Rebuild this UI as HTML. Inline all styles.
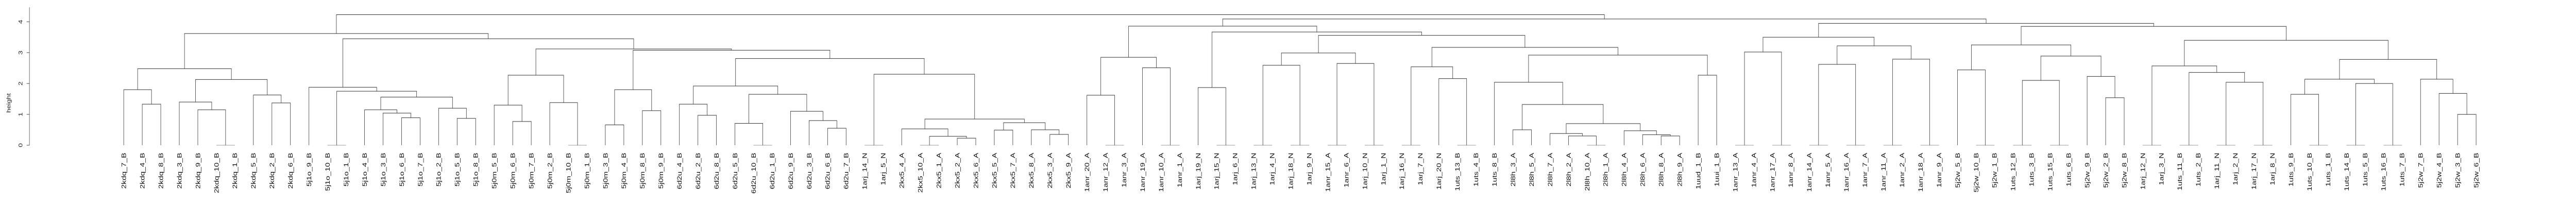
<!DOCTYPE html>
<html><head><meta charset="utf-8"><title>Dendrogram</title>
<style>
html,body{margin:0;padding:0;background:#fff;width:100%;height:100%;overflow:hidden;}
svg{display:block;width:100vw;height:100vh;font-family:"Liberation Sans",sans-serif;overflow:hidden;}
</style>
</head><body>
<svg id="chart" viewBox="0 0 6300 400" preserveAspectRatio="none" xmlns="http://www.w3.org/2000/svg"></svg>
<script>
const leaves = ["2kdq_7_B","2kdq_4_B","2kdq_8_B","2kdq_3_B","2kdq_9_B","2kdq_10_B","2kdq_1_B","2kdq_5_B","2kdq_2_B","2kdq_6_B",
"5j1o_9_B","5j1o_10_B","5j1o_1_B","5j1o_4_B","5j1o_3_B","5j1o_6_B","5j1o_7_B","5j1o_2_B","5j1o_5_B","5j1o_8_B",
"5j0m_5_B","5j0m_6_B","5j0m_7_B","5j0m_2_B","5j0m_10_B","5j0m_1_B","5j0m_3_B","5j0m_4_B","5j0m_8_B","5j0m_9_B",
"6d2u_4_B","6d2u_2_B","6d2u_8_B","6d2u_5_B","6d2u_10_B","6d2u_1_B","6d2u_9_B","6d2u_3_B","6d2u_6_B","6d2u_7_B",
"1arj_14_N","1arj_5_N","2kx5_4_A","2kx5_10_A","2kx5_1_A","2kx5_2_A","2kx5_6_A","2kx5_5_A","2kx5_7_A","2kx5_8_A","2kx5_3_A","2kx5_9_A",
"1anr_20_A","1anr_12_A","1anr_3_A","1anr_19_A","1anr_10_A","1anr_1_A","1arj_19_N","1arj_15_N","1arj_6_N","1arj_13_N","1arj_4_N","1arj_18_N","1arj_9_N",
"1anr_15_A","1anr_6_A","1arj_10_N","1arj_1_N","1arj_16_N","1arj_7_N","1arj_20_N","1uts_13_B","1uts_4_B","1uts_8_B",
"2l8h_3_A","2l8h_5_A","2l8h_7_A","2l8h_2_A","2l8h_10_A","2l8h_1_A","2l8h_4_A","2l8h_6_A","2l8h_8_A","2l8h_9_A","1uud_1_B","1uui_1_B",
"1anr_13_A","1anr_4_A","1anr_17_A","1anr_8_A","1anr_14_A","1anr_5_A","1anr_16_A","1anr_7_A","1anr_11_A","1anr_2_A","1anr_18_A","1anr_9_A",
"5j2w_5_B","5j2w_10_B","5j2w_1_B","1uts_12_B","1uts_3_B","1uts_15_B","1uts_6_B","5j2w_9_B","5j2w_2_B","5j2w_8_B",
"1arj_12_N","1arj_3_N","1uts_11_B","1uts_2_B","1arj_11_N","1arj_2_N","1arj_17_N","1arj_8_N",
"1uts_9_B","1uts_10_B","1uts_1_B","1uts_14_B","1uts_5_B","1uts_16_B","1uts_7_B","5j2w_7_B","5j2w_4_B","5j2w_3_B","5j2w_6_B"];
// merges: negative = leaf index (1-based), positive = earlier merge (1-based)
const merges = [[-2,-3],[-1,1],[-6,-7],[-5,3],[-4,4],[-9,-10],[-8,6],[5,7],[2,8],
[-12,-13],[-16,-17],[-15,11],[-14,12],[-19,-20],[-18,14],[13,15],[10,16],[-11,17],
[-22,-23],[-21,19],[-25,-26],[-24,21],[20,22],[-27,-28],[-29,-30],[24,25],
[-32,-33],[-31,27],[-35,-36],[-34,29],[-39,-40],[-38,31],[-37,32],[30,33],[28,34],
[-41,-42],[-44,-45],[-46,-47],[37,38],[-43,39],[-48,-49],[-51,-52],[-50,42],[41,43],[40,44],[36,45],[35,46],[26,47],[23,48],[18,49],[9,50],
[-54,-55],[-53,52],[-57,-58],[-56,54],[53,55],[-60,-61],[-59,57],[-62,-63],[-64,-65],[59,60],[-66,-67],[-68,-69],[62,63],[61,64],
[-70,-71],[-73,-74],[-72,67],[66,68],[-76,-77],[-80,-81],[-79,71],[-78,72],[-84,-85],[-83,74],[-82,75],[73,76],[70,77],[-75,78],[-86,-87],[79,80],[69,81],[65,82],[58,83],[56,84],
[-88,-89],[-90,-91],[86,87],[-92,-93],[-94,-95],[89,90],[-96,-97],[-98,-99],[92,93],[91,94],[88,95],
[-101,-102],[-100,97],[-103,-104],[-105,-106],[99,100],[-108,-109],[-107,102],[101,103],[98,104],
[-110,-111],[-112,-113],[-114,-115],[-116,-117],[108,109],[107,110],[106,111],
[-119,-120],[-118,113],[-121,-122],[-123,-124],[115,116],[114,117],[-127,-128],[-126,119],[-125,120],[118,121],[112,122],[105,123],[96,124],[85,125],[51,126]];
const heights = [1.33,1.80,0,1.15,1.40,1.37,1.63,2.13,2.48,
0,0.89,1.04,1.15,0.87,1.20,1.56,1.75,1.88,
0.77,1.30,0,1.38,2.27,0.66,1.12,1.80,
0.97,1.33,0,0.71,0.55,0.80,1.10,1.65,1.92,
0,0,0.23,0.29,0.53,0.49,0.35,0.50,0.73,0.85,2.30,2.81,3.08,3.12,3.45,3.62,
0,1.62,0,2.51,2.85,0,1.87,0,0,2.59,0,0,2.65,2.99,
0,0,2.16,2.54,0.50,0,0.30,0.38,0.30,0.34,0.47,0.70,1.32,2.04,2.27,2.92,3.17,3.56,3.67,3.86,
0,0,3.02,0,0,2.62,0,0,2.79,3.22,3.50,
0,2.44,0,0,2.10,1.54,2.23,2.89,3.25,
0,0,0,0,2.04,2.36,2.57,
0,1.65,0,0,2.00,2.14,1.00,1.68,2.14,2.78,3.40,3.85,3.95,4.09,4.23];
const yTicks = [0,1,2,3,4];

const NS = "http://www.w3.org/2000/svg";
const svg = document.getElementById('chart');
const X0 = 302.6, DX = 45.3, Y0 = 282, PPU = 59.92;
function xLeaf(i){ return X0 + (i-1)*DX; }
function yH(h){ return Y0 - h*PPU; }
function mk(tag, attrs, parent){ const e=document.createElementNS(NS,tag); for(const k in attrs) e.setAttribute(k,attrs[k]); (parent||svg).appendChild(e); return e; }

const axis = mk('g',{});


mk('line',{x1:72,y1:14.3,x2:72,y2:Y0,stroke:'#666','stroke-width':1.2},axis);
yTicks.forEach(t=>{
  const tl = mk('line',{x1:65,y1:yH(t),x2:72,y2:yH(t),stroke:'#666','stroke-width':1.2},axis);
  
  
  const tx = mk('text',{x:0,y:0,transform:`translate(55,${yH(t)}) rotate(-90)`,'text-anchor':'middle','font-size':14,fill:'#222'},axis);
  tx.textContent = t;
  
  
});
const yt = mk('text',{x:0,y:0,transform:'translate(26,200) rotate(-90)','text-anchor':'middle','font-size':14,fill:'#222'});
yt.textContent='height';



const tree = mk('g',{stroke:'#333','stroke-width':1,fill:'none'});


const nodeX = [], nodeH = [];
function cx(r){ return r<0 ? xLeaf(-r) : nodeX[r-1]; }
function ch(r){ return r<0 ? 0 : nodeH[r-1]; }
merges.forEach((m,i)=>{
  const h = heights[i];
  const xa = cx(m[0]), xb = cx(m[1]);
  nodeX[i] = (xa+xb)/2; nodeH[i] = h;
  const p = mk('path',{d:`M${xa},${yH(ch(m[0]))}V${yH(h)}H${xb}V${yH(ch(m[1]))}`, stroke: h===0?'#999':'#333'},tree);
  
  
});

const lg = mk('g',{'font-size':15.5,fill:'#111'});


leaves.forEach((name,i)=>{
  const x = xLeaf(i+1);
  const t = mk('text',{x:0,y:0,transform:`translate(${x+5.5},296.7) rotate(-90)`,'text-anchor':'end'},lg);
  t.textContent = name;
  
  
});
</script>
</body></html>
